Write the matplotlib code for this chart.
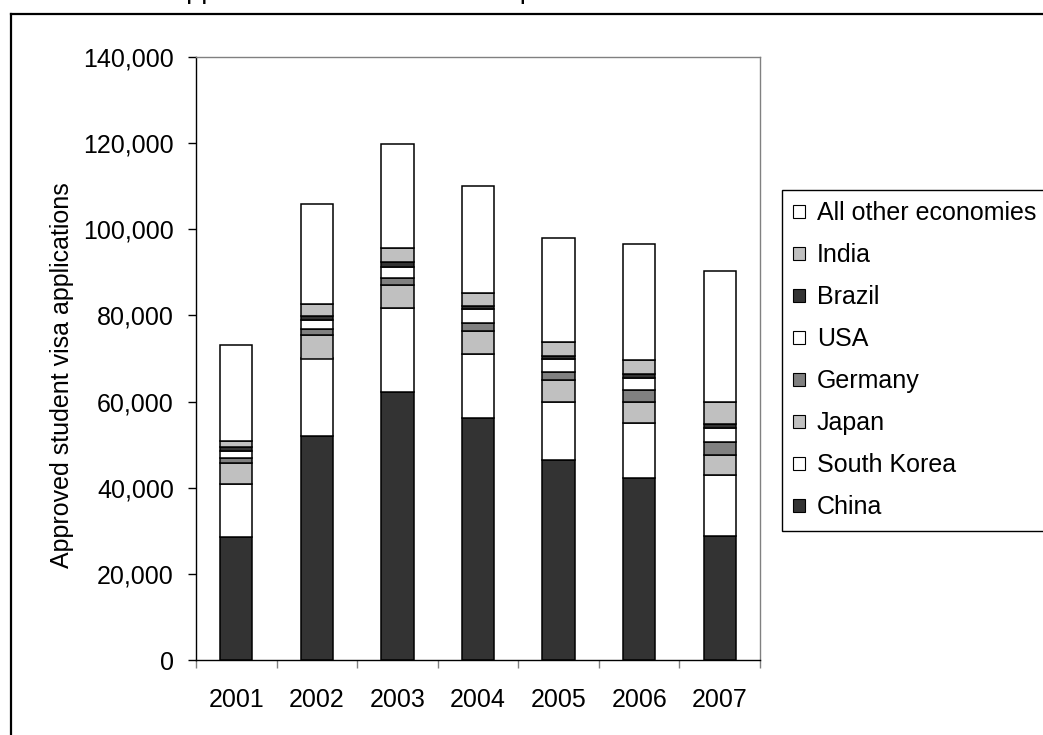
import matplotlib
matplotlib.use("Agg")
import matplotlib.pyplot as plt
from matplotlib.patches import Patch
from matplotlib.lines import Line2D
from matplotlib.ticker import FuncFormatter, FixedLocator
import numpy as np

plt.rcParams['font.family'] = ['Liberation Sans', 'DejaVu Sans']

years = ['2001', '2002', '2003', '2004', '2005', '2006', '2007']
china       = [28600, 51900, 62200, 56100, 46400, 42200, 28800]
south_korea = [12200, 18100, 19500, 14900, 13400, 12900, 14200]
japan       = [5000, 5500, 5400, 5400, 5200, 4700, 4700]
germany     = [1200, 1400, 1500, 1900, 1800, 2900, 2900]
usa         = [1500, 2000, 2600, 3100, 3100, 2700, 3200]
brazil      = [1000, 1000, 1100, 800, 700, 1000, 1000]
india       = [1300, 2800, 3400, 3100, 3200, 3300, 5200]
other       = [22300, 23200, 24100, 24800, 24100, 26800, 30400]

series_names = ['China', 'South Korea', 'Japan', 'Germany', 'USA', 'Brazil', 'India', 'All other economies']
series_vals = [china, south_korea, japan, germany, usa, brazil, india, other]
series_colors = ['#333333', '#FFFFFF', '#C0C0C0', '#808080', '#FFFFFF', '#333333', '#C0C0C0', '#FFFFFF']

W, H = 1043, 735
fig = plt.figure(figsize=(W / 100, H / 100), dpi=100)
fig.patch.set_facecolor('white')

left, right, top, bottom = 196, 760, 57, 660
ax = fig.add_axes([left / W, (H - bottom) / H, (right - left) / W, (bottom - top) / H])

x = np.arange(len(years))
base = np.zeros(len(years))
handles = []
for name, vals, col in zip(series_names, series_vals, series_colors):
    v = np.array(vals, dtype=float)
    ax.bar(x, v, width=0.4, bottom=base, color=col, edgecolor='black', linewidth=1.1, zorder=3)
    base += v
    handles.append(Patch(facecolor=col, edgecolor='black', linewidth=0.8, label=name))

ax.set_xlim(-0.5, len(years) - 0.5)
ax.set_ylim(0, 140000)
ax.set_yticks(np.arange(0, 140001, 20000))
ax.yaxis.set_major_formatter(FuncFormatter(lambda v, p: f'{int(v):,}'))
ax.tick_params(axis='y', direction='out', length=6, width=1, labelsize=18, pad=10, colors='black')

ax.set_xticks(x)
ax.set_xticklabels(years)
ax.xaxis.set_minor_locator(FixedLocator(np.arange(-0.5, len(years), 1.0)))
ax.tick_params(axis='x', which='major', length=0, labelsize=18, pad=20)
ax.tick_params(axis='x', which='minor', direction='out', length=6, width=1, color='#808080')

for s in ['left', 'bottom']:
    ax.spines[s].set_color('black')
    ax.spines[s].set_linewidth(1.0)
for s in ['top', 'right']:
    ax.spines[s].set_color('#808080')
    ax.spines[s].set_linewidth(1.0)

fig.text(62 / W, 1 - 375 / H, 'Approved student visa applications', rotation=90,
         ha='center', va='center', fontsize=18)

leg = ax.legend(handles[::-1], series_names[::-1], loc='upper left',
                bbox_to_anchor=(782 / W, 1 - 190 / H), bbox_transform=fig.transFigure,
                frameon=True, fancybox=False, shadow=False, framealpha=1,
                fontsize=18, handlelength=0.45, handleheight=0.45,
                handletextpad=0.5, labelspacing=0.72, borderpad=0.45, borderaxespad=0)
leg.get_frame().set_edgecolor('black')
leg.get_frame().set_linewidth(1.0)

# outer chart frame (partially cropped)
fig.add_artist(Line2D([11 / W, 11 / W], [0, 1 - 14 / H], transform=fig.transFigure, color='black', lw=1.6))
fig.add_artist(Line2D([11 / W, 1.0], [1 - 14 / H, 1 - 14 / H], transform=fig.transFigure, color='black', lw=1.6))

# cropped title above the image: only the descenders remain visible
fig.text(168 / W, 1 + 1.5 / H, 'Approved student visas for top source economies',
         ha='left', va='baseline', fontsize=19.5)

fig.savefig('out.png', dpi=100, facecolor='white')
